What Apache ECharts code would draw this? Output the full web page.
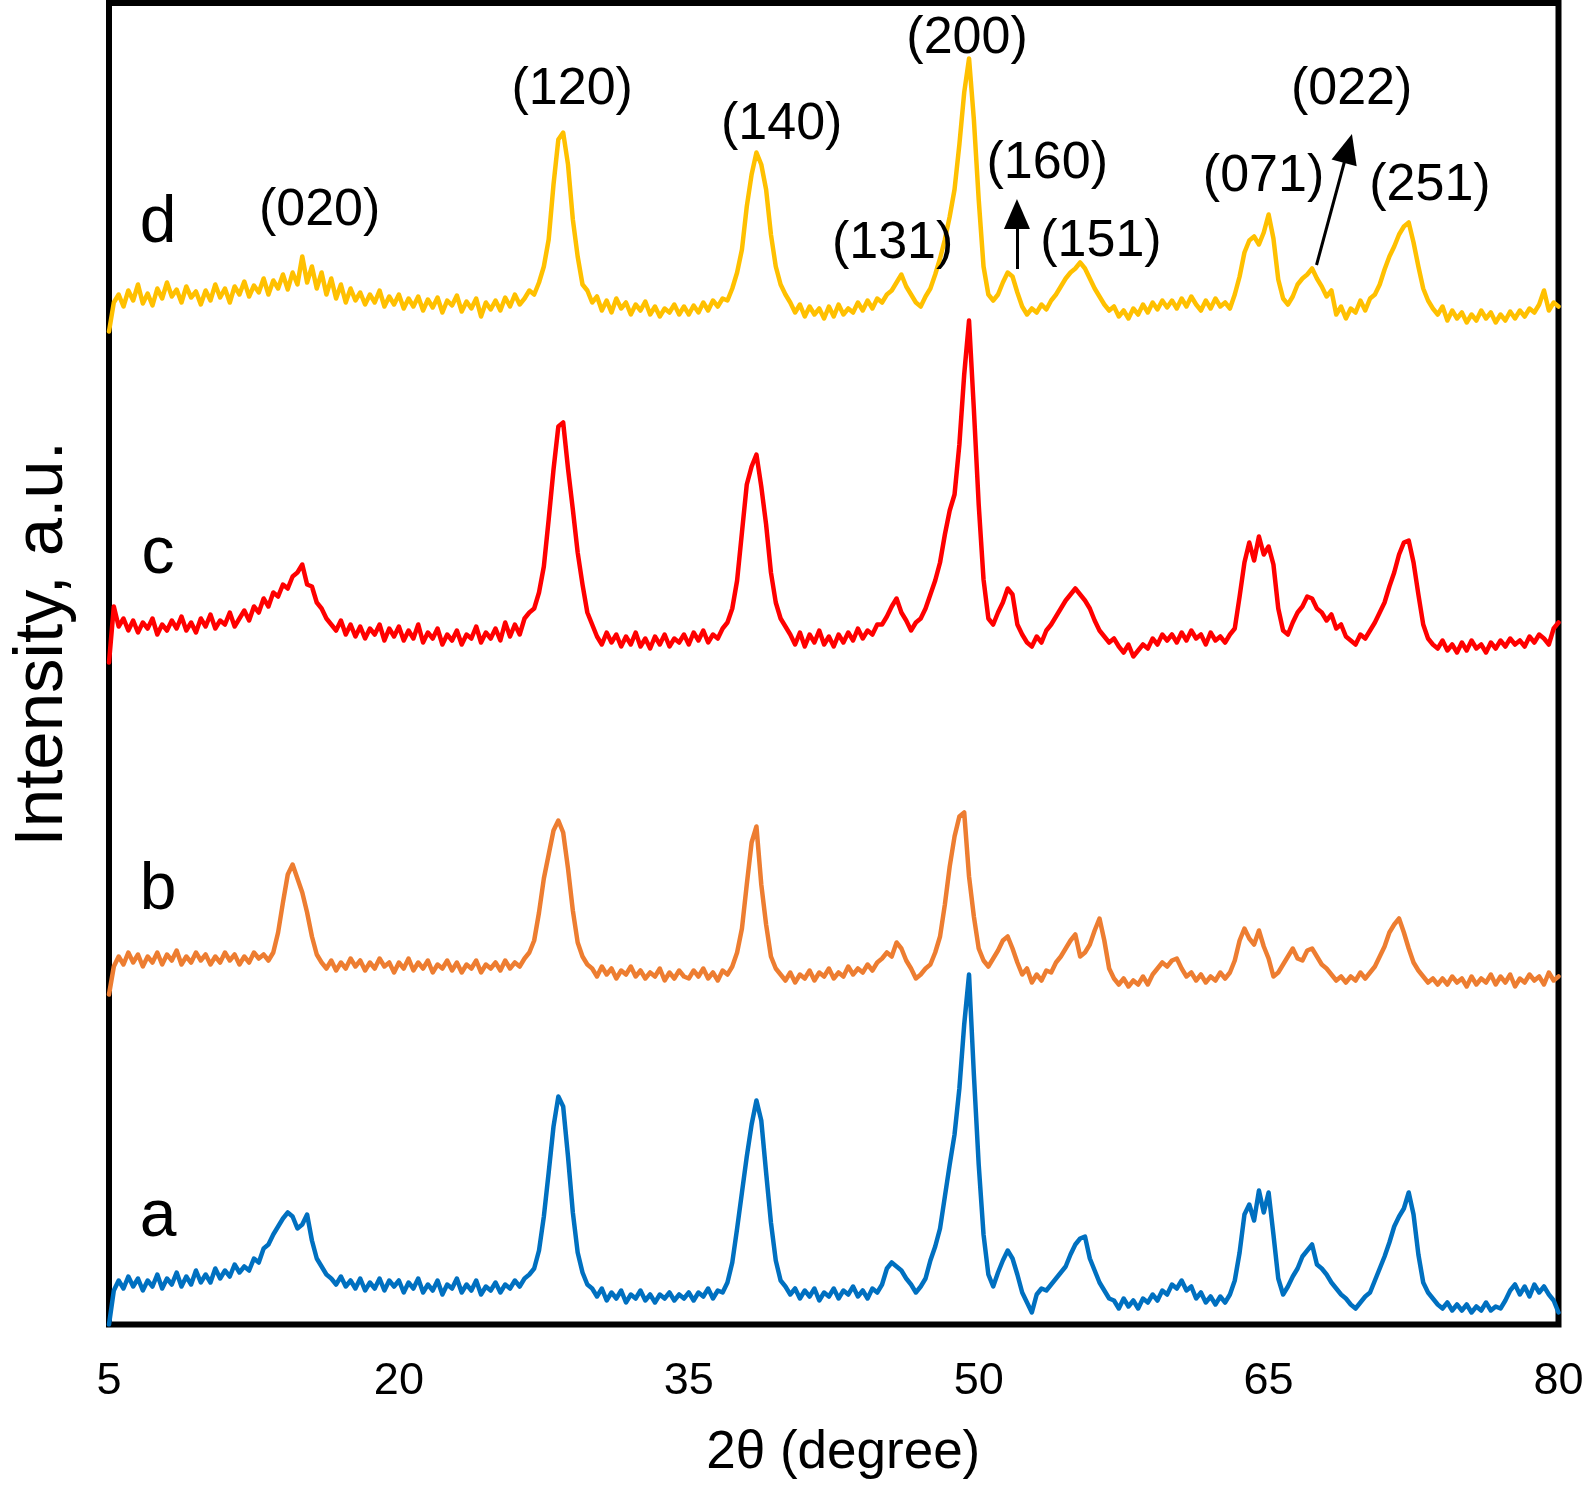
<!DOCTYPE html>
<html><head><meta charset="utf-8">
<script src="https://cdn.jsdelivr.net/npm/echarts@6/dist/echarts.min.js"></script>
<style>html,body{margin:0;padding:0;background:#fff}#chart{width:1589px;height:1497px}</style>
</head><body><div id="chart"></div>
<script>
// 2θ sampling grid (degrees), 0.25° step from 5 to 80
const step = 0.25;
const twoTheta = [];
for (let i = 0; i <= 300; i++) twoTheta.push(+(5 + i * step).toFixed(2));

// Intensities (a.u., stacked offsets as drawn)
const seriesD = [
993,1022,1030,1018,1034,1024,1040,1021,1031,1019,1036,1026,1042,1028,1035,1022,1038,1027,1033,1020,
1034,1024,1040,1027,1036,1022,1038,1030,1043,1028,1039,1032,1046,1030,1044,1036,1050,1035,1052,1040,
1068,1042,1058,1036,1052,1030,1046,1026,1040,1022,1036,1024,1032,1020,1030,1022,1034,1018,1028,1020,
1030,1016,1026,1018,1028,1014,1025,1017,1027,1012,1024,1019,1029,1013,1023,1016,1026,1008,1022,1015,
1024,1014,1027,1018,1030,1020,1026,1034,1030,1042,1058,1085,1140,1185,1192,1160,1105,1068,1040,1034,
1022,1028,1014,1024,1012,1026,1016,1022,1010,1020,1014,1023,1010,1018,1008,1016,1012,1020,1010,1018,
1010,1019,1012,1022,1014,1024,1018,1026,1024,1036,1052,1075,1118,1150,1172,1160,1135,1090,1058,1040,
1030,1022,1012,1020,1008,1018,1010,1016,1006,1018,1008,1020,1010,1016,1012,1022,1014,1024,1016,1026,
1022,1030,1034,1042,1050,1038,1030,1022,1018,1028,1036,1050,1066,1085,1108,1135,1180,1232,1266,1205,
1125,1058,1030,1024,1030,1042,1052,1048,1032,1018,1010,1016,1012,1020,1015,1024,1030,1038,1046,1052,
1056,1062,1056,1046,1036,1028,1020,1014,1018,1008,1014,1006,1016,1010,1020,1012,1022,1015,1024,1017,
1024,1016,1026,1018,1028,1020,1014,1024,1016,1026,1018,1022,1016,1030,1048,1072,1084,1088,1080,1092,
1110,1086,1045,1026,1020,1028,1040,1046,1050,1056,1046,1038,1028,1034,1010,1018,1006,1016,1012,1024,
1014,1026,1030,1040,1055,1068,1078,1090,1098,1102,1082,1058,1036,1024,1016,1010,1018,1004,1014,1006,
1012,1002,1010,1004,1014,1006,1012,1002,1010,1004,1013,1006,1014,1008,1016,1012,1020,1034,1014,1022,
1018];
const seriesC = [
662,718,698,706,694,704,692,702,696,706,690,700,694,704,696,708,694,702,692,706,
698,710,696,704,700,712,698,706,714,704,718,712,726,718,732,728,740,736,748,752,
760,740,738,722,716,706,700,694,704,690,700,688,698,686,696,690,700,684,696,688,
698,684,694,686,700,682,692,686,696,680,690,684,694,680,690,686,698,682,692,686,
696,684,702,688,700,690,706,712,716,732,758,805,855,898,902,856,815,772,740,712,
700,688,680,692,682,690,678,688,680,692,678,686,676,688,680,690,678,686,682,690,
680,692,684,694,682,690,686,696,702,716,744,792,840,858,870,838,800,752,722,706,
698,690,680,692,678,690,682,694,680,688,678,690,682,692,684,696,686,694,690,700,
700,708,718,726,712,704,694,702,706,716,730,744,762,790,814,830,880,950,1004,915,
820,745,706,700,712,722,736,730,700,690,682,678,688,682,694,700,708,716,724,730,
736,730,724,716,704,694,688,682,686,678,672,680,668,674,680,676,686,680,690,684,
690,682,692,684,694,686,690,680,692,684,688,682,690,696,728,762,782,764,788,770,
778,760,716,694,690,702,712,718,728,726,716,712,704,710,696,700,688,684,680,690,
686,694,702,712,722,738,752,770,782,784,762,730,700,686,680,676,684,674,680,672,
682,674,684,676,680,672,682,676,684,678,686,680,684,678,688,682,690,686,680,696,
702];
const seriesB = [
330,358,368,360,372,362,370,358,368,362,372,360,370,364,374,360,368,362,372,364,
370,360,368,362,372,364,370,360,368,362,372,366,370,364,372,392,422,450,460,446,
432,412,388,370,362,356,364,354,362,356,366,358,364,354,362,356,366,358,362,352,
362,356,366,354,362,356,364,352,360,356,364,354,362,352,360,356,364,352,360,356,
362,354,364,356,362,358,366,372,384,412,446,470,494,504,492,456,414,382,368,360,
356,348,358,350,356,346,354,350,358,348,354,346,352,348,356,344,352,346,354,348,
346,354,348,356,346,352,344,354,350,358,372,396,440,482,498,440,400,368,356,350,
344,352,342,350,346,354,344,352,348,356,346,352,348,358,350,356,352,360,354,362,
366,372,368,382,376,364,356,346,350,356,360,372,388,420,458,488,508,512,448,408,
376,364,358,366,374,384,388,376,362,350,356,342,350,344,354,352,362,368,376,384,
390,368,372,380,394,406,384,356,346,340,346,338,344,340,348,340,350,356,362,358,
364,366,356,348,352,344,350,342,348,344,352,346,352,364,384,396,386,380,394,378,
366,348,352,360,368,376,366,364,374,376,368,360,356,350,344,348,342,348,344,352,
346,352,358,368,378,392,400,406,392,376,362,354,348,342,346,340,346,340,348,342,
346,338,348,340,346,342,350,340,348,342,350,338,346,342,350,344,348,340,352,344,
348];
const seriesA = [
0,34,44,36,48,38,46,34,44,38,50,36,46,40,52,38,48,40,54,42,
50,42,56,46,54,48,60,52,58,54,66,62,76,80,90,98,106,112,108,96,
100,110,84,66,58,50,46,40,48,38,44,36,46,34,42,36,46,34,44,38,
44,32,42,36,46,32,40,34,44,30,40,36,46,32,40,34,44,30,38,34,
42,32,40,36,44,38,46,50,56,74,108,152,198,228,218,168,112,72,52,40,
36,28,36,24,32,26,34,22,30,26,34,24,30,22,30,26,32,24,30,26,
32,24,32,28,36,26,34,32,42,62,96,132,168,200,224,204,152,102,64,44,
38,30,36,26,34,28,36,24,32,28,36,26,34,30,38,28,34,26,36,32,
40,56,62,58,54,46,40,32,38,46,64,78,96,128,160,190,236,300,350,250,
160,90,50,38,52,64,74,66,50,32,22,12,30,36,34,40,46,52,58,70,
80,86,88,66,54,42,34,26,24,16,26,18,24,16,26,22,30,24,34,30,
40,36,44,34,38,26,32,22,28,20,28,22,30,44,72,110,120,104,134,112,
132,90,46,30,38,48,56,68,74,80,60,56,50,42,36,30,26,20,16,22,
28,32,44,56,68,82,98,108,116,132,110,70,42,32,26,20,16,22,14,20,
14,20,12,18,14,22,14,18,16,24,34,40,30,38,28,40,32,38,30,24,
12];

const xTicks = [5, 20, 35, 50, 65, 80];

// Peak (hkl) annotations
const hklLabels = ['(020)','(120)','(140)','(131)','(200)','(160)','(151)','(071)','(022)','(251)'];
const hklX = [15.91, 28.98, 39.82, 45.56, 49.41, 53.56, 56.34, 64.75, 69.31, 73.36];
const hklY = [1113.5, 1234.5, 1199.5, 1080.5, 1285.5, 1160.5, 1082.5, 1147.5, 1234.5, 1138.5];

// Sample letters
const sampleNames = ['a', 'b', 'c', 'd'];
const sampleX = [7.55, 7.55, 7.55, 7.55];
const sampleY = [106.5, 433.5, 769.5, 1100.5];

// Arrows (start, end) in data coordinates
const arrowStart = [[51.98, 1055.5], [67.48, 1059.5]];
const arrowEnd = [[51.98, 1110.5], [69.11, 1176]];

const FONT = 'Liberation Sans';
const pairs = (ys) => ys.map((y, i) => [twoTheta[i], y]);

const chart = echarts.init(document.getElementById('chart'), null, {renderer: 'canvas'});
const lineSeries = (name, ys, color) => ({
  name, type: 'line', data: pairs(ys), showSymbol: false, symbol: 'none',
  lineStyle: {width: 4.5, color, join: 'round', cap: 'round'}, itemStyle: {color}, silent: true, z: 2
});
const textLabel = (size) => ({
  show: true, formatter: '{b}', position: [0, 0], align: 'center', verticalAlign: 'middle',
  fontSize: size, color: '#000', fontFamily: FONT, textBorderWidth: 0, opacity: 1
});

chart.setOption({
  animation: false,
  backgroundColor: '#fff',
  textStyle: {fontFamily: FONT},
  grid: {left: 104.5, right: 30.5, top: 3, bottom: 172.5, show: true, borderColor: '#000', borderWidth: 6, backgroundColor: 'transparent'},
  xAxis: {
    type: 'value', min: xTicks[0], max: xTicks[xTicks.length - 1], interval: 15,
    axisLine: {show: false}, axisTick: {show: false}, splitLine: {show: false},
    axisLabel: {fontSize: 45, color: '#000', margin: 35, fontFamily: FONT},
    name: '2θ (degree)', nameLocation: 'middle', nameGap: 102,
    nameTextStyle: {fontSize: 53, color: '#000', fontFamily: FONT, padding: [0, 0, 0, 19]}
  },
  yAxis: {
    type: 'value', min: 0, max: 1321.5,
    axisLine: {show: false}, axisTick: {show: false}, axisLabel: {show: false}, splitLine: {show: false},
    name: 'Intensity, a.u.', nameLocation: 'middle', nameGap: 32, nameRotate: 90,
    nameTextStyle: {fontSize: 69, color: '#000', fontFamily: FONT, padding: [0, 0, 0, 40]}
  },
  series: [
    lineSeries('d', seriesD, '#FFC000'),
    lineSeries('c', seriesC, '#FF0000'),
    lineSeries('b', seriesB, '#ED7D31'),
    lineSeries('a', seriesA, '#0070C0'),
    {
      type: 'scatter', silent: true, z: 5, symbolSize: 0.5,
      itemStyle: {color: '#ffffff', opacity: 1},
      data: hklLabels.map((t, i) => ({name: t, value: [hklX[i], hklY[i]]})),
      label: textLabel(52),
      markLine: {
        silent: true, symbol: ['none', 'triangle'], symbolSize: [26, 30],
        lineStyle: {color: '#000', width: 3, type: 'solid', opacity: 1},
        itemStyle: {color: '#000'},
        label: {show: false},
        data: arrowStart.map((s, i) => [{coord: s}, {coord: arrowEnd[i]}])
      }
    },
    {
      type: 'scatter', silent: true, z: 5, symbolSize: 0.5,
      itemStyle: {color: '#ffffff', opacity: 1},
      data: sampleNames.map((t, i) => ({name: t, value: [sampleX[i], sampleY[i]]})),
      label: textLabel(66)
    }
  ]
});
</script></body></html>
